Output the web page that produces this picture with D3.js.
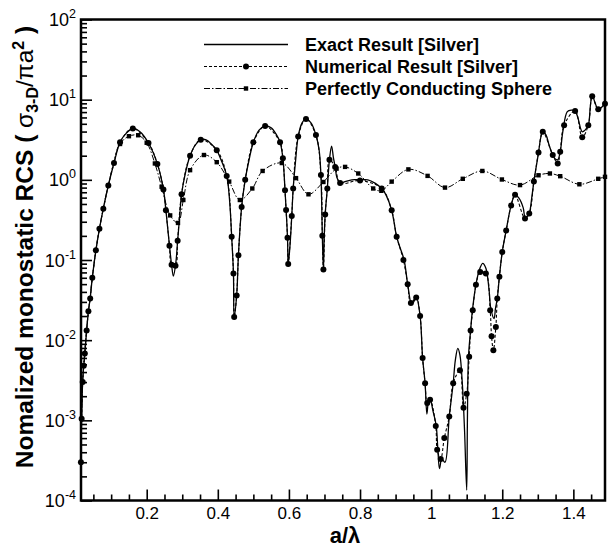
<!DOCTYPE html>
<html>
<head>
<meta charset="utf-8">
<script src="https://cdn.jsdelivr.net/npm/d3@7"></script>
<style>
body{margin:0;background:#fff}
svg{display:block}
text{font-family:"Liberation Sans",Arial,Helvetica,sans-serif}
</style>
</head>
<body>
<div id="chart"></div>
<script>
// exact result [silver]
var aExact = [0.015,0.020,0.026,0.031,0.036,0.041,0.047,0.057,0.067,0.078,0.092,0.108,0.125,0.142,0.161,0.181,0.205,0.230,0.247,0.254,0.264,0.270,0.275,0.282,0.287,0.293,0.298,0.308,0.322,0.336,0.352,0.367,0.381,0.397,0.409,0.425,0.433,0.439,0.444,0.446,0.453,0.458,0.467,0.477,0.488,0.500,0.516,0.533,0.550,0.564,0.575,0.583,0.589,0.596,0.598,0.603,0.608,0.612,0.619,0.626,0.637,0.648,0.662,0.676,0.685,0.690,0.694,0.697,0.699,0.702,0.708,0.714,0.720,0.725,0.730,0.735,0.744,0.758,0.777,0.800,0.822,0.842,0.861,0.873,0.889,0.903,0.913,0.924,0.934,0.945,0.951,0.958,0.969,0.976,0.983,0.988,0.992,0.997,1.005,1.014,1.019,1.0235,1.030,1.039,1.051,1.062,1.068,1.075,1.081,1.088,1.094,1.100,1.102,1.105,1.111,1.116,1.126,1.135,1.145,1.154,1.163,1.168,1.177,1.181,1.186,1.192,1.200,1.211,1.225,1.236,1.247,1.259,1.264,1.270,1.276,1.284,1.289,1.302,1.308,1.314,1.323,1.332,1.342,1.349,1.356,1.363,1.371,1.383,1.394,1.405,1.413,1.425,1.433,1.442,1.448,1.453,1.461,1.470,1.478,1.489];
var sExact = [3.0e-4,3.1e-3,6.8e-3,0.0132,0.0229,0.0331,0.060,0.132,0.245,0.437,0.85,1.62,2.95,3.80,4.37,3.98,2.88,1.58,0.76,0.417,0.151,0.087,0.063,0.093,0.174,0.363,0.66,1.17,2.0,2.69,3.16,3.16,2.82,2.34,1.78,1.12,0.56,0.195,0.068,0.0195,0.036,0.115,0.457,1.0,1.78,2.95,4.17,4.68,4.47,3.72,2.95,1.86,0.74,0.19,0.089,0.151,0.355,0.78,1.78,3.47,5.13,5.75,5.13,3.63,2.34,1.15,0.20,0.076,0.178,0.37,0.78,1.78,2.63,1.91,1.45,1.07,0.91,0.95,1.0,1.0,1.0,0.91,0.78,0.65,0.417,0.195,0.141,0.100,0.050,0.028,0.030,0.035,0.020,0.0060,0.0029,0.0012,0.00166,0.00186,0.00132,8.7e-4,4.3e-4,2.5e-4,3.3e-4,3.0e-4,1.12e-3,2.9e-3,5.6e-3,7.9e-3,6.5e-3,2.75e-3,7.4e-4,1.35e-4,1.0e-3,6.2e-3,0.0132,0.0234,0.049,0.074,0.091,0.079,0.042,0.0245,0.0186,0.025,0.033,0.062,0.126,0.234,0.48,0.65,0.59,0.447,0.347,0.347,0.38,0.65,0.95,2.19,3.31,3.98,3.63,2.69,2.04,1.82,1.78,2.24,4.17,7.08,7.41,7.24,5.89,3.98,4.17,4.79,8.51,11.5,9.12,7.59,7.94,8.91];

// numerical result [silver]
var aNum = [0.015,0.017,0.020,0.023,0.026,0.031,0.036,0.041,0.047,0.057,0.067,0.078,0.092,0.108,0.125,0.161,0.205,0.230,0.247,0.254,0.264,0.270,0.281,0.287,0.298,0.322,0.352,0.397,0.425,0.439,0.444,0.446,0.453,0.458,0.467,0.477,0.500,0.533,0.575,0.583,0.589,0.592,0.596,0.598,0.608,0.612,0.626,0.648,0.676,0.690,0.694,0.697,0.702,0.708,0.714,0.730,0.744,0.800,0.861,0.889,0.903,0.922,0.934,0.943,0.958,0.969,0.976,0.983,0.989,0.997,1.013,1.017,1.027,1.037,1.051,1.062,1.081,1.091,1.100,1.107,1.111,1.117,1.126,1.138,1.154,1.166,1.170,1.175,1.182,1.186,1.192,1.200,1.211,1.225,1.236,1.264,1.276,1.289,1.302,1.314,1.342,1.356,1.363,1.374,1.405,1.425,1.442,1.453,1.470,1.489];
var sNum = [3.0e-4,1.05e-3,3.0e-3,4.8e-3,6.8e-3,0.0132,0.0229,0.033,0.060,0.132,0.245,0.437,0.85,1.62,2.95,4.37,2.88,1.58,0.76,0.417,0.151,0.087,0.085,0.174,0.66,2.0,3.16,2.34,1.12,0.195,0.068,0.0195,0.036,0.115,0.457,1.0,2.95,4.68,2.95,1.86,0.74,0.42,0.19,0.089,0.355,0.78,3.47,5.75,3.63,1.15,0.20,0.076,0.37,0.78,1.78,1.45,0.91,0.98,0.78,0.417,0.195,0.10,0.050,0.029,0.034,0.020,0.0060,0.0029,0.00165,0.0018,8.5e-4,4.3e-4,3.3e-4,6.0e-4,1.12e-3,2.9e-3,4.2e-3,1.44e-3,2.15e-3,6.2e-3,0.0132,0.0236,0.049,0.071,0.068,0.0236,0.0112,0.0075,0.0146,0.033,0.062,0.126,0.234,0.48,0.65,0.33,0.38,0.95,2.19,3.98,2.04,1.6,2.24,4.8,7.24,3.4,4.79,11.0,7.59,8.91];

// perfectly conducting sphere
var aPec = [0.015,0.020,0.031,0.047,0.067,0.092,0.125,0.150,0.176,0.200,0.223,0.242,0.266,0.288,0.303,0.322,0.361,0.397,0.432,0.462,0.497,0.526,0.580,0.620,0.655,0.697,0.734,0.758,0.795,0.837,0.860,0.889,0.936,0.990,1.039,1.089,1.144,1.199,1.250,1.302,1.334,1.363,1.417,1.470,1.489];
var sPec = [3.0e-4,3.1e-3,0.0132,0.060,0.245,0.85,2.8,3.5,3.6,2.9,1.6,0.82,0.36,0.29,0.56,1.32,2.04,1.66,0.95,0.56,0.78,1.29,1.62,1.05,0.66,0.94,1.38,1.45,1.20,0.78,0.73,0.95,1.35,1.12,0.80,1.03,1.29,1.01,0.86,1.14,1.20,1.11,0.88,1.03,1.09];

var xMajor = [0.2,0.4,0.6,0.8,1.0,1.2,1.4];
var xMinor = [0.05,0.1,0.15,0.25,0.3,0.35,0.45,0.5,0.55,0.65,0.7,0.75,0.85,0.9,0.95,1.05,1.1,1.15,1.25,1.3,1.35,1.45];
var yExp = [-4,-3,-2,-1,0,1,2];
var legendNames = ['Exact Result [Silver]','Numerical Result [Silver]','Perfectly Conducting Sphere'];

var margin = {top:19.5,right:3,bottom:48.5,left:81};
var W = 608, H = 549;
var width = W - margin.left - margin.right,
    height = H - margin.top - margin.bottom;

var x = d3.scaleLinear().domain([0.0152,1.489]).range([0,width]);
var y = d3.scaleLog().domain([1e-4,1e2]).range([height,0]);

var svg = d3.select('#chart').append('svg')
    .attr('width',W).attr('height',H)
    .style('background','#fff');

var g = svg.append('g')
    .attr('transform','translate(' + margin.left + ',' + margin.top + ')');

g.append('clipPath').attr('id','clip')
  .append('rect').attr('x',0).attr('y',0).attr('width',width).attr('height',height);

// y minor ticks
var yMinor = [];
yExp.slice(0,-1).forEach(function(e){
    for (var m = 2; m <= 9; m++) yMinor.push(m * Math.pow(10,e));
});

var yAxMinor = g.append('g').call(d3.axisLeft(y).tickValues(yMinor).tickSize(-6).tickFormat(''));
var yAxMajor = g.append('g').call(d3.axisLeft(y).tickValues(yExp.map(function(e){return Math.pow(10,e);})).tickSize(-11).tickFormat(''));
var xAxMinor = g.append('g').attr('transform','translate(0,' + height + ')')
    .call(d3.axisBottom(x).tickValues(xMinor).tickSize(-6).tickFormat(''));
var xAxMajor = g.append('g').attr('transform','translate(0,' + height + ')')
    .call(d3.axisBottom(x).tickValues(xMajor).tickSize(-11).tickPadding(6)
        .tickFormat(function(d){ return String(+d.toFixed(1)); }));

[yAxMinor,yAxMajor,xAxMinor,xAxMajor].forEach(function(a){
    a.select('.domain').remove();
    a.selectAll('line').attr('stroke','#000').attr('stroke-width',1.6);
});
xAxMajor.selectAll('text').attr('fill','#000').style('font-size','17px')
    .style('font-family','"Liberation Sans",Arial,sans-serif');

// y tick labels 10^n
var ylab = g.append('g').selectAll('text').data(yExp).enter().append('text')
    .attr('x',-5)
    .attr('y',function(d){ return y(Math.pow(10,d)) + 6.5; })
    .attr('text-anchor','end')
    .style('font-size','18px');
ylab.append('tspan').text('10');
ylab.append('tspan').attr('dy',-8).style('font-size','12.5px').text(function(d){ return d; });

// frame
g.append('rect').attr('x',0).attr('y',0).attr('width',width).attr('height',height)
    .attr('fill','none').attr('stroke','#000').attr('stroke-width',2.5);

var line = d3.line()
    .x(function(d){ return x(d[0]); })
    .y(function(d){ return y(d[1]); })
    .curve(d3.curveCatmullRom.alpha(0.5));

var exact = d3.zip(aExact,sExact),
    num = d3.zip(aNum,sNum),
    pec = d3.zip(aPec,sPec);

var plot = g.append('g').attr('clip-path','url(#clip)');

plot.append('path').datum(pec).attr('d',line)
    .attr('fill','none').attr('stroke','#000').attr('stroke-width',1)
    .attr('stroke-dasharray','6,2,1.5,2');
plot.append('path').datum(num).attr('d',line)
    .attr('fill','none').attr('stroke','#000').attr('stroke-width',1.1)
    .attr('stroke-dasharray','3,2');
plot.append('path').datum(exact).attr('d',line)
    .attr('fill','none').attr('stroke','#000').attr('stroke-width',1.3);

g.append('g').selectAll('rect').data(pec.slice(6)).enter().append('rect')
    .attr('x',function(d){ return x(d[0]) - 2.2; })
    .attr('y',function(d){ return y(d[1]) - 2.2; })
    .attr('width',4.4).attr('height',4.4).attr('fill','#000');

g.append('g').selectAll('circle').data(num).enter().append('circle')
    .attr('cx',function(d){ return x(d[0]); })
    .attr('cy',function(d){ return y(d[1]); })
    .attr('r',3).attr('fill','#000');

// legend
var leg = svg.append('g');
var rowsY = [44.5,66.5,88.5];
var dashes = [null,'3,2','6,2,1.5,2'];
legendNames.forEach(function(name,i){
    leg.append('line').attr('x1',204).attr('x2',288).attr('y1',rowsY[i]).attr('y2',rowsY[i])
        .attr('stroke','#000').attr('stroke-width',i == 0 ? 1.3 : 1.1)
        .attr('stroke-dasharray',dashes[i]);
    if (i == 1) leg.append('circle').attr('cx',246).attr('cy',rowsY[i]).attr('r',3).attr('fill','#000');
    if (i == 2) leg.append('rect').attr('x',243.8).attr('y',rowsY[i]-2.2).attr('width',4.4).attr('height',4.4).attr('fill','#000');
    leg.append('text').attr('x',305).attr('y',rowsY[i]).attr('dy','0.36em')
        .style('font-size','18px').style('font-weight','bold').text(name);
});

// axis titles
svg.append('text').attr('x',345).attr('y',543).attr('text-anchor','middle')
    .style('font-size','22px').style('font-weight','bold').text('a/λ');

var yt = svg.append('text')
    .attr('transform','translate(33,247) rotate(-90)')
    .attr('text-anchor','middle')
    .style('font-size','24.5px').style('font-weight','bold');
yt.append('tspan').text('Nomalized monostatic RCS ( ');
yt.append('tspan').style('font-weight','normal').text('σ');
yt.append('tspan').attr('dy',5).style('font-size','16px').text('3-D');
yt.append('tspan').attr('dy',-5).style('font-weight','normal').text('/πa');
yt.append('tspan').attr('dy',-9).style('font-size','16px').text('2');
yt.append('tspan').attr('dy',9).text(' )');
</script>
</body>
</html>
